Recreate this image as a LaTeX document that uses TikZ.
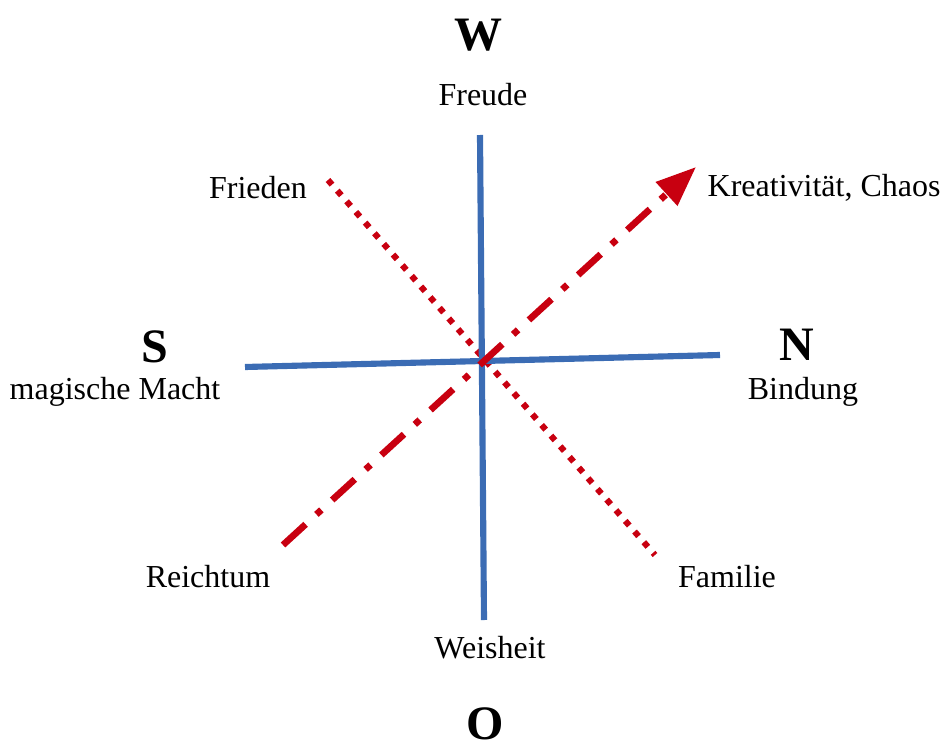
\documentclass[tikz,border=0pt]{standalone}
\usepackage{fontspec}
\setmainfont{Liberation Serif}
\usepackage{tikz}
\usetikzlibrary{arrows.meta}
\usepackage{xcolor}
\definecolor{axisblue}{RGB}{59,108,180}
\definecolor{darkred}{RGB}{200,0,16}

\begin{document}
\begin{tikzpicture}[
    x=0.75pt, y=-0.75pt,
    dir/.style={font=\fontsize{36}{36}\selectfont\bfseries},
    lbl/.style={font=\fontsize{24}{26}\selectfont},
    axis/.style={axisblue, line width=4.6pt},
    dotline/.style={darkred, line width=4.6pt, dash pattern=on 4.6pt off 6pt},
    dashdot/.style={darkred, line width=5pt, dash pattern=on 23pt off 11pt on 5pt off 11pt,
                    -{Triangle[length=30pt, width=23pt]}},
]
    \useasboundingbox (0,0) rectangle (943,749);

    % Directions
    \node[dir] (w) at (478,35) {W};
    \node[dir] (s) at (155,347) {S};
    \node[dir] (n) at (797,345) {N};
    \node[dir] (o) at (485,724) {O};

    % Labels
    \node[lbl] (freude) at (483,95) {Freude};
    \node[lbl] (frieden) at (258,188) {Frieden};
    \node[lbl, anchor=west] (kreativ) at (703,188) {Kreativität, Chaos};
    \node[lbl] (macht) at (115,392) {magische Macht};
    \node[lbl] (bindung) at (803,392) {Bindung};
    \node[lbl] (reichtum) at (208,577) {Reichtum};
    \node[lbl] (familie) at (727,577) {Familie};
    \node[lbl] (weisheit) at (490,648) {Weisheit};

    % Axis end points
    \coordinate (top) at (480,135);
    \coordinate (bot) at (484,620);
    \coordinate (left) at (245,367);
    \coordinate (right) at (720,355);
    \coordinate (dA) at (328,180);
    \coordinate (dB) at (655,555);
    \coordinate (aA) at (283,545);
    \coordinate (aB) at (696,167);

    % Axes
    \draw[dotline] (dA) -- (dB);
    \draw[axis] (top) -- (bot);
    \draw[axis] (left) -- (right);
    \draw[dashdot] (aA) -- (aB);
\end{tikzpicture}
\end{document}
